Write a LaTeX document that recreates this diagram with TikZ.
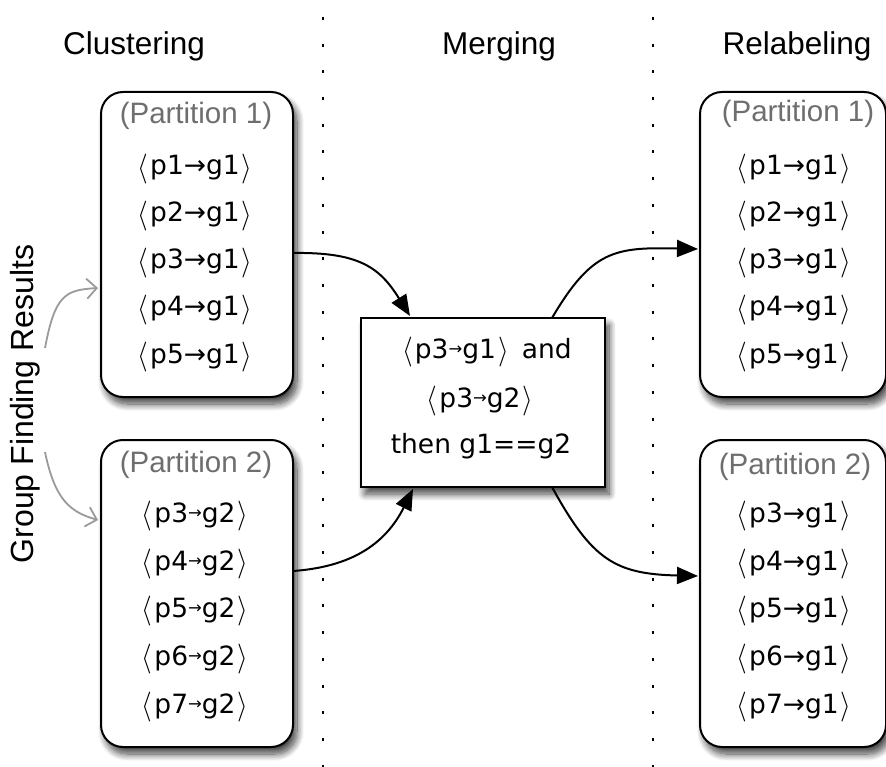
\documentclass[tikz,border=0pt]{standalone}
\usepackage{fontspec}
\setmainfont{Liberation Sans}
\newfontfamily\itemfont{DejaVu Sans}
\usetikzlibrary{arrows.meta,shadows.blur}
\definecolor{hdrgray}{HTML}{6E6E6E}
\definecolor{curvegray}{HTML}{9A9A9A}
\newcommand\lbr{\raisebox{-0.06em}{\scalebox{1.1}[1.2]{$\langle$}}\kern2pt}
\newcommand\rbr{\kern2pt\raisebox{-0.06em}{\scalebox{1.1}[1.2]{$\rangle$}}}
\newcommand\ent[2]{\lbr#1→#2\rbr}
\newcommand\sent[2]{\lbr#1\raisebox{0.12em}{\scalebox{0.62}{→}}#2\rbr}
\begin{document}
\begin{tikzpicture}[x=1pt,y=-1pt,
  title/.style={font=\fontsize{31.5}{32}\selectfont, anchor=base, inner sep=0pt},
  header/.style={font=\fontsize{29.5}{30}\selectfont, text=hdrgray, anchor=base, inner sep=0pt},
  entry/.style={font=\itemfont\fontsize{26.5}{27}\selectfont, anchor=base, inner sep=0pt},
  softshadow/.style={blur shadow={shadow xshift=4pt, shadow yshift=-7pt, shadow blur radius=7pt, shadow blur steps=12, shadow opacity=75}},
  partbox/.style={draw, line width=2pt, rounded corners=22pt, fill=white, softshadow, inner sep=0pt},
  mergebox/.style={draw, line width=2.4pt, fill=white, softshadow, inner sep=0pt},
  sep/.style={line width=2.4pt, dash pattern=on 3pt off 23.7pt},
  flow/.style={line width=2pt, -{Triangle[length=21pt,width=17pt]}},
  hint/.style={line width=1.8pt, draw=curvegray, -{Straight Barb[length=10pt,width=20pt,line width=1.8pt]}}
]
\useasboundingbox (0,0) rectangle (886,767);

% separators
\coordinate (s1t) at (323,17);
\coordinate (s1b) at (323,767);
\coordinate (s2t) at (653,17);
\coordinate (s2b) at (653,767);
\draw[sep] (s1t) -- (s1b);
\draw[sep] (s2t) -- (s2b);

% titles
\node[title] (tclu) at (134,55) {Clustering};
\node[title] (tmer) at (499,55) {Merging};
\node[title] (trel) at (797,55) {Relabeling};

% boxes
\node[partbox, minimum width=192pt, minimum height=305pt] (lp1) at (197,244.5) {};
\node[partbox, minimum width=192pt, minimum height=307pt] (lp2) at (197,593.5) {};
\node[partbox, minimum width=186pt, minimum height=305pt] (rp1) at (793,244.5) {};
\node[partbox, minimum width=186pt, minimum height=307pt] (rp2) at (793,593.5) {};
\node[mergebox, minimum width=244pt, minimum height=169pt] (mid) at (483,402.5) {};

% left partition 1
\node[header] (lp1h) at (196,124) {(Partition 1)};
\node[entry] (lp1a) at (195,175) {\ent{p1}{g1}};
\node[entry] (lp1b) at (195,222) {\ent{p2}{g1}};
\node[entry] (lp1c) at (195,269) {\ent{p3}{g1}};
\node[entry] (lp1d) at (195,316) {\ent{p4}{g1}};
\node[entry] (lp1e) at (195,363) {\ent{p5}{g1}};

% left partition 2
\node[header] (lp2h) at (196,472) {(Partition 2)};
\node[entry] (lp2a) at (195,522) {\sent{p3}{g2}};
\node[entry] (lp2b) at (195,570) {\sent{p4}{g2}};
\node[entry] (lp2c) at (195,617) {\sent{p5}{g2}};
\node[entry] (lp2d) at (195,665) {\sent{p6}{g2}};
\node[entry] (lp2e) at (195,713) {\sent{p7}{g2}};

% right partition 1
\node[header] (rp1h) at (798,122) {(Partition 1)};
\node[entry] (rp1a) at (794,175) {\ent{p1}{g1}};
\node[entry] (rp1b) at (794,222) {\ent{p2}{g1}};
\node[entry] (rp1c) at (794,269) {\ent{p3}{g1}};
\node[entry] (rp1d) at (794,316) {\ent{p4}{g1}};
\node[entry] (rp1e) at (794,363) {\ent{p5}{g1}};

% right partition 2
\node[header] (rp2h) at (795,474) {(Partition 2)};
\node[entry] (rp2a) at (794,522) {\ent{p3}{g1}};
\node[entry] (rp2b) at (794,570) {\ent{p4}{g1}};
\node[entry] (rp2c) at (794,617) {\ent{p5}{g1}};
\node[entry] (rp2d) at (794,665) {\ent{p6}{g1}};
\node[entry] (rp2e) at (794,713) {\ent{p7}{g1}};

% merge text
\node[entry] (m1) at (487,358) {\sent{p3}{g1}\hspace{0.5em}and};
\node[entry] (m2) at (480,407) {\sent{p3}{g2}};
\node[entry] (m3) at (481,453) {then g1==g2};

% side label
\node[font=\fontsize{32}{32}\selectfont, rotate=90, inner sep=0pt] (gfr) at (25,404) {Group Finding Results};

% connector end points
\coordinate (a1s) at (293,253);
\coordinate (a1e) at (410,316);
\coordinate (a2s) at (293,571);
\coordinate (a2e) at (413,489);
\coordinate (a3s) at (552,318);
\coordinate (a3e) at (698,249);
\coordinate (a4s) at (552,487);
\coordinate (a4e) at (698,576);
\coordinate (h1s) at (45,348);
\coordinate (h1e) at (98,288);
\coordinate (h2s) at (45,452);
\coordinate (h2e) at (98,520);

\draw[flow] (a1s) .. controls (360,252) and (380,268) .. (a1e);
\draw[flow] (a2s) .. controls (350,567) and (385,545) .. (a2e);
\draw[flow] (a3s) .. controls (592,250) and (615,247) .. (a3e);
\draw[flow] (a4s) .. controls (592,560) and (615,574) .. (a4e);

\draw[hint] (h1s) .. controls (55,295) and (65,290) .. (h1e);
\draw[hint] (h2s) .. controls (55,500) and (70,512) .. (h2e);
\end{tikzpicture}
\end{document}
